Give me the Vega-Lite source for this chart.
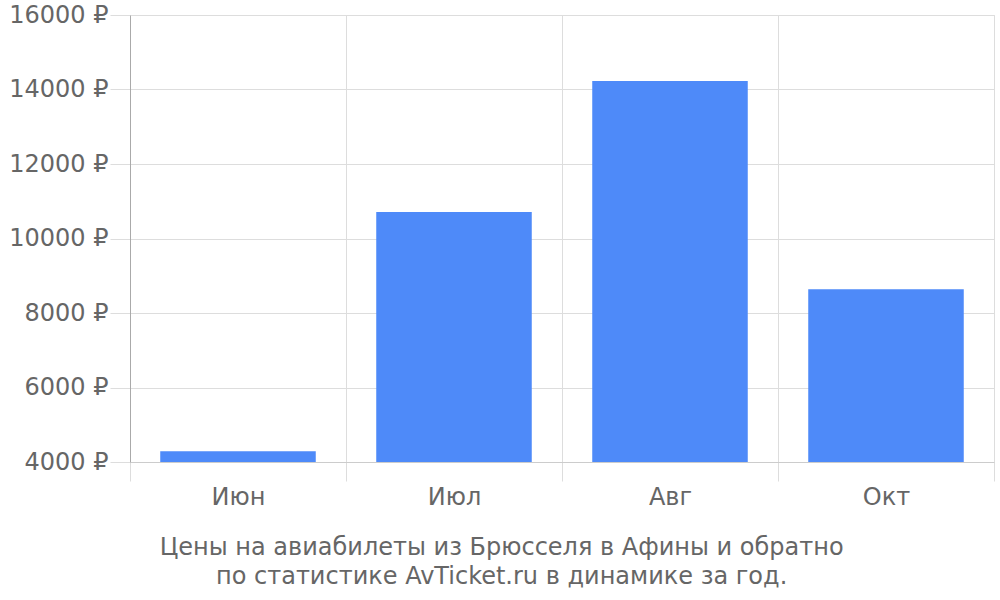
{
  "$schema": "https://vega.github.io/schema/vega-lite/v6.json",
  "width": 864,
  "height": 447,
  "autosize": {"type": "none"},
  "padding": {"left": 130, "top": 15, "right": 6, "bottom": 138},
  "background": "white",
  "config": {
    "font": "DejaVu Sans",
    "view": {"stroke": "#dddddd"}
  },
  "title": {
    "text": ["Цены на авиабилеты из Брюсселя в Афины и обратно", "по статистике AvTicket.ru в динамике за год."],
    "orient": "bottom",
    "anchor": "middle",
    "frame": "bounds",
    "font": "DejaVu Sans",
    "fontSize": 24,
    "fontWeight": "normal",
    "color": "#666666",
    "lineHeight": 29,
    "offset": 27
  },
  "data": {
    "values": [
      {"month": "Июн", "price": 4290},
      {"month": "Июл", "price": 10710},
      {"month": "Авг", "price": 14225},
      {"month": "Окт", "price": 8640}
    ]
  },
  "mark": {"type": "bar", "color": "#4e8af9", "clip": true, "width": {"band": 0.72}},
  "encoding": {
    "x": {
      "field": "month",
      "type": "nominal",
      "sort": null,
      "scale": {"paddingInner": 0, "paddingOuter": 0},
      "axis": {
        "title": null,
        "tickBand": "extent",
        "grid": true,
        "gridColor": "#dddddd",
        "domainColor": "#cccccc",
        "tickColor": "#dddddd",
        "tickSize": 19,
        "labelAngle": 0,
        "labelFontSize": 24,
        "labelColor": "#666666",
        "labelPadding": 4,
        "labelFont": "DejaVu Sans"
      }
    },
    "y": {
      "field": "price",
      "type": "quantitative",
      "scale": {"domain": [4000, 16000], "nice": false, "zero": false},
      "axis": {
        "title": null,
        "values": [4000, 6000, 8000, 10000, 12000, 14000, 16000],
        "labelExpr": "datum.value + ' ₽'",
        "grid": true,
        "gridColor": "#dddddd",
        "domainColor": "#aaaaaa",
        "tickColor": "#dddddd",
        "tickSize": 20,
        "labelPadding": 2,
        "labelFontSize": 24,
        "labelColor": "#666666",
        "labelFont": "DejaVu Sans"
      }
    }
  }
}
